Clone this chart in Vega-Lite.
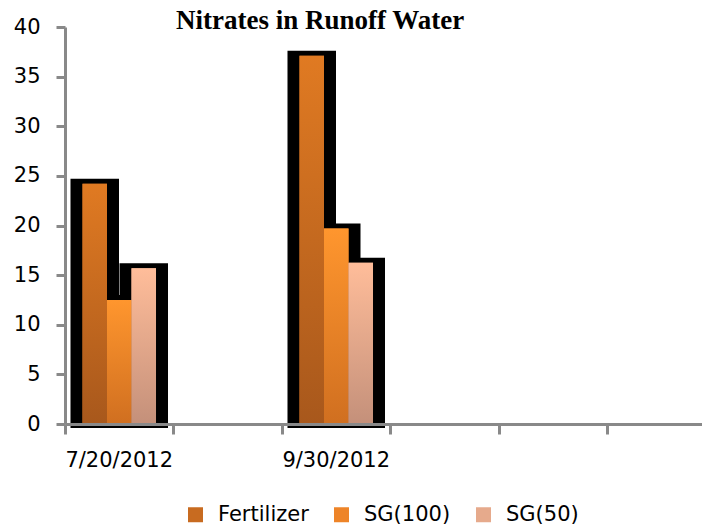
{
  "$schema": "https://vega.github.io/schema/vega-lite/v6.json",
  "autosize": {"type": "none"},
  "padding": {"left": 65, "top": 27, "right": 0, "bottom": 107},
  "width": 637,
  "height": 397,
  "background": "white",
  "config": {"view": {"stroke": null}},
  "title": {
    "text": "Nitrates in Runoff Water",
    "font": "Liberation Serif",
    "fontWeight": "bold",
    "fontSize": 27,
    "color": "black",
    "anchor": "start",
    "frame": "group",
    "baseline": "alphabetic",
    "offset": 0,
    "dx": 111,
    "dy": 39.5
  },
  "data": {
    "values": [
      {"date": "7/20/2012", "series": "Fertilizer", "value": 24.2},
      {"date": "7/20/2012", "series": "SG(100)", "value": 12.5},
      {"date": "7/20/2012", "series": "SG(50)", "value": 15.7},
      {"date": "9/30/2012", "series": "Fertilizer", "value": 37.1},
      {"date": "9/30/2012", "series": "SG(100)", "value": 19.7},
      {"date": "9/30/2012", "series": "SG(50)", "value": 16.25}
    ]
  },
  "encoding": {
    "x": {
      "field": "date",
      "type": "nominal",
      "sort": null,
      "scale": {
        "domain": ["7/20/2012", " ", "9/30/2012", "  ", "   ", "    "],
        "range": [0, 651],
        "paddingInner": 0,
        "paddingOuter": 0
      },
      "axis": {
        "title": null,
        "labelAngle": 0,
        "bandPosition": 0,
        "zindex": 1,
        "domainColor": "#898989",
        "domainWidth": 3,
        "tickColor": "#898989",
        "tickWidth": 3,
        "tickSize": 10,
        "labelPadding": 15,
        "labelFont": "DejaVu Sans",
        "labelFontSize": 21,
        "labelColor": "black",
        "labelBaseline": "top",
        "grid": false
      }
    },
    "xOffset": {
      "field": "series",
      "type": "nominal",
      "scale": {"domain": ["Fertilizer", "SG(100)", "SG(50)"], "paddingInner": 0, "paddingOuter": 0.714}
    },
    "y": {
      "field": "value",
      "type": "quantitative",
      "stack": null,
      "scale": {"domain": [0, 40], "nice": false},
      "axis": {
        "title": null,
        "values": [0, 5, 10, 15, 20, 25, 30, 35, 40],
        "grid": false,
        "zindex": 1,
        "domainColor": "#898989",
        "domainWidth": 3,
        "tickColor": "#898989",
        "tickWidth": 3,
        "tickSize": 9,
        "labelPadding": 16,
        "labelFont": "DejaVu Sans",
        "labelFontSize": 21,
        "labelColor": "black"
      }
    }
  },
  "layer": [
    {
      "mark": {"type": "bar", "color": "black", "stroke": "black", "strokeWidth": 24, "strokeJoin": "miter", "yOffset": 7, "y2Offset": -8},
      "encoding": {"y2": {"datum": 0}}
    },
    {
      "mark": {"type": "bar"},
      "encoding": {
        "color": {
          "field": "series",
          "type": "nominal",
          "scale": {
            "domain": ["Fertilizer", "SG(100)", "SG(50)"],
            "range": ["#C86B20", "#EE8428", "#E6AA8C"]
          },
          "legend": {
            "title": null,
            "orient": "none",
            "direction": "horizontal",
            "legendX": 120,
            "legendY": 477,
            "symbolType": "square",
            "symbolSize": 225,
            "symbolStrokeWidth": 0,
            "symbolOpacity": 1,
            "labelOffset": 12,
            "columnPadding": 22,
            "padding": 0,
            "labelFont": "DejaVu Sans",
            "labelFontSize": 21,
            "labelColor": "black",
            "labelLimit": 300
          }
        }
      }
    },
    {
      "transform": [{"filter": "datum.series == 'Fertilizer'"}],
      "mark": {"type": "bar", "color": {"gradient": "linear", "x1": 0, "y1": 0, "x2": 0, "y2": 1, "stops": [{"offset": 0, "color": "#E07A22"}, {"offset": 1, "color": "#A8581C"}]}}
    },
    {
      "transform": [{"filter": "datum.series == 'SG(100)'"}],
      "mark": {"type": "bar", "color": {"gradient": "linear", "x1": 0, "y1": 0, "x2": 0, "y2": 1, "stops": [{"offset": 0, "color": "#FF962E"}, {"offset": 1, "color": "#D06F20"}]}}
    },
    {
      "transform": [{"filter": "datum.series == 'SG(50)'"}],
      "mark": {"type": "bar", "color": {"gradient": "linear", "x1": 0, "y1": 0, "x2": 0, "y2": 1, "stops": [{"offset": 0, "color": "#FFBD9A"}, {"offset": 1, "color": "#C4907A"}]}}
    }
  ]
}
